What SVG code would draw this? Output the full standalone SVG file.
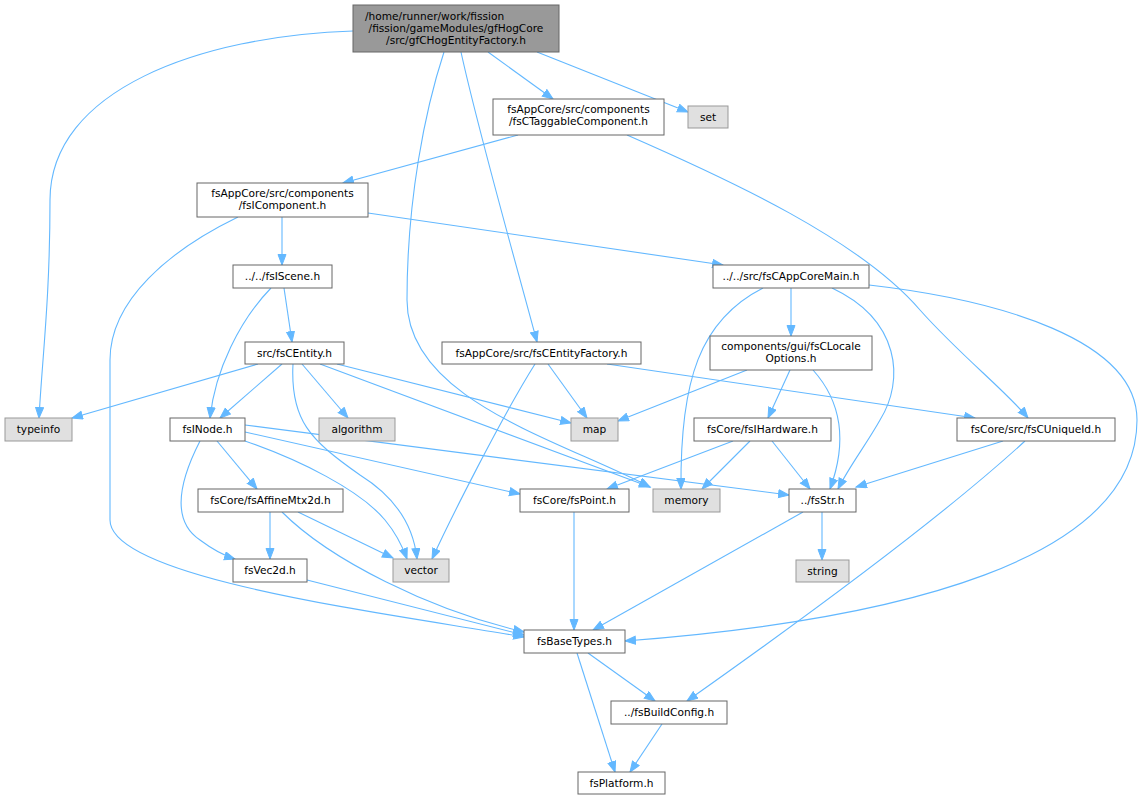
<svg xmlns="http://www.w3.org/2000/svg" width="1143" height="800" viewBox="0 0 1143 800">
<style>
text{font-family:"DejaVu Sans","Liberation Sans",sans-serif;font-size:10.6px;fill:#000;text-anchor:middle}
.n rect{fill:#fff;stroke:#666;stroke-width:1}
.s rect{fill:#e0e0e0;stroke:#999;stroke-width:1}
.m rect{fill:#999;stroke:#666;stroke-width:1}
#edges path{fill:none;stroke:#63b8ff;stroke-width:1.1;marker-end:url(#ah)}
</style>
<defs>
<marker id="ah" markerWidth="13" markerHeight="10" refX="11" refY="4.5" orient="auto" markerUnits="userSpaceOnUse">
<path d="M0.5,0.5 L11,4.5 L0.5,8.5 z" fill="#63b8ff" stroke="#63b8ff" stroke-width="1"/>
</marker>
</defs>
<rect width="1143" height="800" fill="#fff"/>
<g id="edges">
<path d="M353,31 C200,36 50,90 50,200 C50,300 42,360 39,418"/>
<path d="M444,52 C425,110 407,200 407,300 C407,400 560,440 650,487"/>
<path d="M461,52 C478,130 515,260 537,342"/>
<path d="M488,52 L553,99"/>
<path d="M537,52 L688,112"/>
<path d="M518,135 L343,183"/>
<path d="M627,135 C730,180 860,240 920,310 C960,355 1005,390 1028,418"/>
<path d="M282,217 L282,265"/>
<path d="M368,213 L723,265"/>
<path d="M238,217 C170,250 110,300 110,360 L110,520 C110,580 400,615 524,637"/>
<path d="M284,288 L292,342"/>
<path d="M271,288 C240,320 215,370 210,418"/>
<path d="M258,364 L72,418"/>
<path d="M282,364 L220,418"/>
<path d="M302,364 L348,418"/>
<path d="M293,364 C290,420 310,440 360,475 C400,500 414,530 417,559"/>
<path d="M337,364 L571,423"/>
<path d="M320,364 L650,487"/>
<path d="M548,364 L587,418"/>
<path d="M535,364 C500,420 450,520 432,559"/>
<path d="M607,364 L975,418"/>
<path d="M791,288 L791,336"/>
<path d="M763,288 C700,320 680,380 681,489"/>
<path d="M832,288 C900,320 905,380 880,420 C866,445 850,465 838,489"/>
<path d="M869,285 C1000,300 1137,340 1137,420 C1137,560 900,620 625,641"/>
<path d="M747,370 L618,421"/>
<path d="M790,370 L768,418"/>
<path d="M813,370 C840,400 848,440 830,489"/>
<path d="M733,441 L607,489"/>
<path d="M750,441 L702,489"/>
<path d="M772,441 L810,489"/>
<path d="M1003,441 L856,487"/>
<path d="M1025,441 C950,510 830,600 687,701"/>
<path d="M217,441 L257,489"/>
<path d="M200,441 C180,480 170,520 200,540 C212,549 222,555 235,559"/>
<path d="M245,441 C300,460 360,490 385,520 C395,532 402,545 407,559"/>
<path d="M245,432 L520,494"/>
<path d="M245,425 L789,495"/>
<path d="M270,512 L270,559"/>
<path d="M298,512 L393,558"/>
<path d="M282,512 C330,560 430,610 524,632"/>
<path d="M307,580 L524,635"/>
<path d="M574,512 L574,630"/>
<path d="M822,512 L822,560"/>
<path d="M803,512 L593,630"/>
<path d="M588,653 L655,701"/>
<path d="M577,653 L615,772"/>
<path d="M662,724 L630,772"/>
</g>
<g id="main" class="m"><rect x="353" y="5" width="206" height="47"/><text x="365" y="19.5" style="text-anchor:start">/home/runner/work/fission</text><text x="456" y="31.5">/fission/gameModules/gfHogCore</text><text x="456" y="43.5">/src/gfCHogEntityFactory.h</text></g>
<g id="set" class="s"><rect x="688" y="106" width="40" height="22"/><text x="708" y="120.7">set</text></g>
<g id="taggable" class="n"><rect x="493" y="99" width="171" height="36"/><text x="578.5" y="113">fsAppCore/src/components</text><text x="578.5" y="125">/fsCTaggableComponent.h</text></g>
<g id="icomponent" class="n"><rect x="197" y="183" width="171" height="34"/><text x="282.5" y="197">fsAppCore/src/components</text><text x="282.5" y="209">/fsIComponent.h</text></g>
<g id="iscene" class="n"><rect x="233" y="265" width="99" height="23"/><text x="282.5" y="280.2">../../fsIScene.h</text></g>
<g id="appcoremain" class="n"><rect x="713" y="265" width="156" height="23"/><text x="791" y="280.2">../../src/fsCAppCoreMain.h</text></g>
<g id="localeoptions" class="n"><rect x="710" y="336" width="162" height="34"/><text x="791" y="350">components/gui/fsCLocale</text><text x="791" y="362">Options.h</text></g>
<g id="entityfactory" class="n"><rect x="442" y="342" width="199" height="22"/><text x="541.5" y="356.7">fsAppCore/src/fsCEntityFactory.h</text></g>
<g id="centity" class="n"><rect x="245" y="342" width="99" height="22"/><text x="294.5" y="356.7">src/fsCEntity.h</text></g>
<g id="typeinfo" class="s"><rect x="5" y="418" width="67" height="23"/><text x="38.5" y="433.2">typeinfo</text></g>
<g id="inode" class="n"><rect x="170" y="418" width="75" height="23"/><text x="207.5" y="433.2">fsINode.h</text></g>
<g id="algorithm" class="s"><rect x="319" y="418" width="76" height="23"/><text x="357" y="433.2">algorithm</text></g>
<g id="map" class="s"><rect x="571" y="418" width="47" height="23"/><text x="594.5" y="433.2">map</text></g>
<g id="ihardware" class="n"><rect x="694" y="418" width="137" height="23"/><text x="762.5" y="433.2">fsCore/fsIHardware.h</text></g>
<g id="uniqueid" class="n"><rect x="957" y="418" width="158" height="23"/><text x="1036" y="433.2">fsCore/src/fsCUniqueId.h</text></g>
<g id="affinemtx" class="n"><rect x="198" y="489" width="145" height="23"/><text x="270.5" y="504.2">fsCore/fsAffineMtx2d.h</text></g>
<g id="point" class="n"><rect x="520" y="489" width="109" height="23"/><text x="574.5" y="504.2">fsCore/fsPoint.h</text></g>
<g id="memory" class="s"><rect x="653" y="489" width="67" height="23"/><text x="686.5" y="504.2">memory</text></g>
<g id="fsstr" class="n"><rect x="789" y="489" width="67" height="23"/><text x="822.5" y="504.2">../fsStr.h</text></g>
<g id="vec2d" class="n"><rect x="233" y="559" width="74" height="23"/><text x="270" y="574.2">fsVec2d.h</text></g>
<g id="vector" class="s"><rect x="393" y="559" width="56" height="23"/><text x="421" y="574.2">vector</text></g>
<g id="string" class="s"><rect x="796" y="560" width="53" height="22"/><text x="822.5" y="574.7">string</text></g>
<g id="basetypes" class="n"><rect x="524" y="630" width="101" height="23"/><text x="574.5" y="645.2">fsBaseTypes.h</text></g>
<g id="buildconfig" class="n"><rect x="611" y="701" width="116" height="23"/><text x="669" y="716.2">../fsBuildConfig.h</text></g>
<g id="platform" class="n"><rect x="578" y="772" width="87" height="22"/><text x="621.5" y="786.7">fsPlatform.h</text></g>
</svg>
